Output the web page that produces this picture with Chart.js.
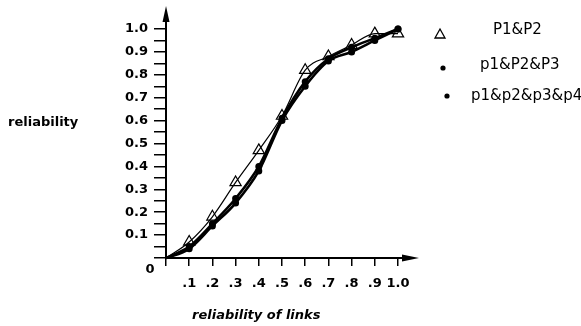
<!DOCTYPE html>
<html>
<head>
<meta charset="utf-8">
<script src="https://cdn.jsdelivr.net/npm/chart.js@4/dist/chart.umd.min.js"></script>
<style>
  html, body { margin: 0; padding: 0; background: #fff; }
  #wrap { width: 581px; height: 326px; }
</style>
</head>
<body>
<div id="wrap"><canvas id="chart" width="581" height="326"></canvas></div>
<script>
const linkReliability = [0, 0.1, 0.2, 0.3, 0.4, 0.5, 0.6, 0.7, 0.8, 0.9, 1.0];
const p1p2 = [0, 0.07, 0.18, 0.33, 0.47, 0.62, 0.82, 0.88, 0.93, 0.98, 0.98];
const p1p2p3 = [0, 0.04, 0.14, 0.24, 0.38, 0.60, 0.75, 0.86, 0.90, 0.95, 1.0];
const p1p2p3p4 = [0, 0.05, 0.15, 0.26, 0.40, 0.61, 0.77, 0.87, 0.92, 0.96, 1.0];
const seriesLabels = ['P1&P2', 'p1&P2&P3', 'p1&p2&p3&p4'];

const toPoints = vals => vals.map((v, i) => ({ x: linkReliability[i], y: v }));

const FONT = '"DejaVu Sans", Arial, sans-serif';

const decorations = {
    id: 'decorations',
    afterDraw(chart) {
        const ctx = chart.ctx;
        const a = chart.chartArea;
        ctx.save();
        ctx.strokeStyle = '#000';
        ctx.fillStyle = '#000';
        ctx.lineWidth = 2;

        // axis extensions with arrow heads
        ctx.beginPath();
        ctx.moveTo(a.left, a.top);
        ctx.lineTo(a.left, 16);
        ctx.moveTo(a.right, a.bottom);
        ctx.lineTo(408, a.bottom);
        ctx.stroke();
        ctx.beginPath();
        ctx.moveTo(a.left, 6);
        ctx.lineTo(a.left - 3.5, 22);
        ctx.lineTo(a.left + 3.5, 22);
        ctx.closePath();
        ctx.fill();
        ctx.beginPath();
        ctx.moveTo(419, a.bottom);
        ctx.lineTo(402, a.bottom - 3.5);
        ctx.lineTo(402, a.bottom + 3.5);
        ctx.closePath();
        ctx.fill();

        // origin label and axis titles
        ctx.textBaseline = 'middle';
        ctx.textAlign = 'center';
        ctx.font = 'bold 13px ' + FONT;
        ctx.fillText('0', 150, 270);
        ctx.textAlign = 'left';
        ctx.fillText('reliability', 8, 123);
        ctx.font = 'italic bold 13px ' + FONT;
        ctx.fillText('reliability of links', 192, 316);

        // legend
        ctx.font = '15px ' + FONT;
        ctx.lineWidth = 1.3;
        ctx.beginPath();
        ctx.moveTo(440, 29);
        ctx.lineTo(445, 38);
        ctx.lineTo(435, 38);
        ctx.closePath();
        ctx.stroke();
        ctx.fillText(seriesLabels[0], 493, 30);
        ctx.beginPath();
        ctx.arc(443, 68, 2.6, 0, Math.PI * 2);
        ctx.fill();
        ctx.fillText(seriesLabels[1], 480, 65);
        ctx.beginPath();
        ctx.arc(447, 96, 2.6, 0, Math.PI * 2);
        ctx.fill();
        ctx.fillText(seriesLabels[2], 471, 96);
        ctx.restore();
    }
};

new Chart(document.getElementById('chart'), {
    type: 'scatter',
    data: {
        datasets: [
            {
                label: seriesLabels[0],
                data: toPoints(p1p2),
                showLine: true,
                borderColor: '#000',
                borderWidth: 1.2,
                backgroundColor: '#fff',
                pointStyle: 'triangle',
                pointRadius: p1p2.map((v, i) => i === 0 ? 0 : 6.5),
                pointBorderWidth: 1.2,
                pointBorderColor: '#000',
                pointBackgroundColor: 'rgba(255,255,255,0)',
                cubicInterpolationMode: 'monotone',
                clip: false
            },
            {
                label: seriesLabels[1],
                data: toPoints(p1p2p3),
                showLine: true,
                borderColor: '#000',
                borderWidth: 2.6,
                backgroundColor: '#000',
                pointRadius: p1p2p3.map((v, i) => i === 0 ? 0 : 2.2),
                cubicInterpolationMode: 'monotone',
                clip: false
            },
            {
                label: seriesLabels[2],
                data: toPoints(p1p2p3p4),
                showLine: true,
                borderColor: '#000',
                borderWidth: 2.6,
                backgroundColor: '#000',
                pointRadius: p1p2p3p4.map((v, i) => i === 0 ? 0 : 2.2),
                cubicInterpolationMode: 'monotone',
                clip: false
            }
        ]
    },
    options: {
        responsive: false,
        animation: false,
        layout: { padding: { left: 110, top: 29, right: 183, bottom: 28 } },
        plugins: { legend: { display: false }, tooltip: { enabled: false } },
        scales: {
            x: {
                type: 'linear',
                min: 0,
                max: 1.0,
                afterFit(scale) { scale.height = 40; },
                border: { display: true, color: '#000', width: 2 },
                grid: { drawOnChartArea: false, drawTicks: true, tickLength: 8, color: '#000', lineWidth: 1.5 },
                ticks: {
                    stepSize: 0.1,
                    padding: 10,
                    color: '#000',
                    maxRotation: 0,
                    autoSkip: false,
                    font: { family: FONT, size: 13, weight: 'bold' },
                    callback: v => {
                        const n = Math.round(v * 10);
                        if (n === 0) return '';
                        return n === 10 ? '1.0' : '.' + n;
                    }
                }
            },
            y: {
                type: 'linear',
                min: 0,
                max: 1.0,
                afterFit(scale) { scale.width = 56; },
                border: { display: true, color: '#000', width: 2 },
                grid: { drawOnChartArea: false, drawTicks: true, tickLength: 12, color: '#000', lineWidth: 1.5 },
                ticks: {
                    stepSize: 0.05,
                    padding: 6,
                    color: '#000',
                    autoSkip: false,
                    font: { family: FONT, size: 13, weight: 'bold' },
                    callback: v => {
                        const n = Math.round(v * 20);
                        if (n === 0 || n % 2 === 1) return '';
                        return (n / 20).toFixed(1);
                    }
                }
            }
        }
    },
    plugins: [decorations]
});
</script>
</body>
</html>
